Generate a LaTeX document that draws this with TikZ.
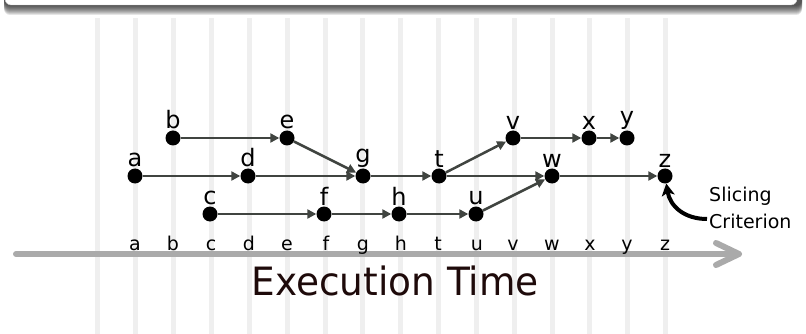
\documentclass[tikz,border=0pt]{standalone}
\usepackage{fontspec}
\setmainfont{DejaVu Sans}
\usetikzlibrary{arrows.meta}
\definecolor{gridcol}{RGB}{239,239,239}
\definecolor{edgecol}{RGB}{64,68,64}
\definecolor{axiscol}{RGB}{170,170,170}
\definecolor{titlecol}{RGB}{30,10,10}
\definecolor{boxborder}{RGB}{200,200,200}
\begin{document}
\begin{tikzpicture}[x=1pt,y=-1pt,
  lbl/.style={font=\fontsize{24}{28}\selectfont,inner sep=1pt},
  dot/.style={circle,fill=black,minimum size=15pt,inner sep=0pt,label={[lbl]above:#1}},
  edge/.style={draw=edgecol,line width=2.5pt,-{Triangle[length=9pt,width=9pt]}},
  axlbl/.style={font=\fontsize{19}{22}\selectfont,anchor=base,inner sep=0pt},
  gridline/.style={draw=gridcol,line width=5pt},
  axisline/.style={draw=axiscol,line width=6pt,line cap=round,line join=round},
  crit/.style={font=\fontsize{19}{24}\selectfont,anchor=base west,inner sep=0pt},
]
\useasboundingbox (0,0) rectangle (806,334);
% top frame with shadow
\begin{scope}
\clip (0,0) rectangle (806,334);
\foreach \i in {1,...,10}
  \fill[black,opacity=0.1,rounded corners=6pt] (4,-60) rectangle (802,{5+\i});
\filldraw[fill=white,draw=boxborder,rounded corners=6pt] (5,-60) rectangle (797,5);
\end{scope}
% vertical grid lines
\foreach \x in {97,135,173,211,249,287,325,362,400,438,476,514,552,589,627,665}
  \draw[gridline] (\x,18) -- (\x,334);
% time axis
\coordinate (axstart) at (16,254);
\coordinate (axend) at (739,254);
\draw[axisline] (axstart) -- (axend);
\draw[axisline] (716,243) -- (axend) -- (716,265);
\foreach \n/\x in {a/135,b/173,c/211,d/249,e/287,f/326,g/363,h/401,t/438,u/477,v/513,w/552,x/590,y/627,z/665}
  \node[axlbl] (ax\n) at (\x,250) {\n};
\node[font=\fontsize{39}{44}\selectfont,text=titlecol,anchor=base,inner sep=0pt,xscale=0.96] (title) at (395,295) {Execution Time};
% events
\node[dot=a] (a) at (135,176) {};
\node[dot=b] (b) at (173,138) {};
\node[dot=c] (c) at (210,214) {};
\node[dot=d] (d) at (248,176) {};
\node[dot=e] (e) at (287,138) {};
\node[dot=f] (f) at (324,214) {};
\node[dot=g] (g) at (363,176) {};
\node[dot=h] (h) at (399,214) {};
\node[dot=t] (t) at (439,176) {};
\node[dot=u] (u) at (476,214) {};
\node[dot=v] (v) at (513,138) {};
\node[dot=w] (w) at (552,176) {};
\node[dot=x] (x) at (589,138) {};
\node[dot=y] (y) at (627,138) {};
\node[dot=z] (z) at (665,176) {};
% dependences
\draw[edge] (b) -- (e);
\draw[edge] (e) -- (g);
\draw[edge] (a) -- (d);
\draw[edge] (d) -- (g);
\draw[edge] (g) -- (t);
\draw[edge] (t) -- (v);
\draw[edge] (v) -- (x);
\draw[edge] (x) -- (y);
\draw[edge] (t) -- (w);
\draw[edge] (w) -- (z);
\draw[edge] (c) -- (f);
\draw[edge] (f) -- (h);
\draw[edge] (h) -- (u);
\draw[edge] (u) -- (w);
% slicing criterion
\node[crit] (sl) at (709,201) {Slicing};
\node[crit] (cr) at (709,228) {Criterion};
\coordinate (cs) at (707,219);
\draw[line width=4pt,-{Stealth[length=12pt,width=13pt,inset=3pt]}] (cs) .. controls (684,219) and (670,206) .. (z);
\end{tikzpicture}
\end{document}
